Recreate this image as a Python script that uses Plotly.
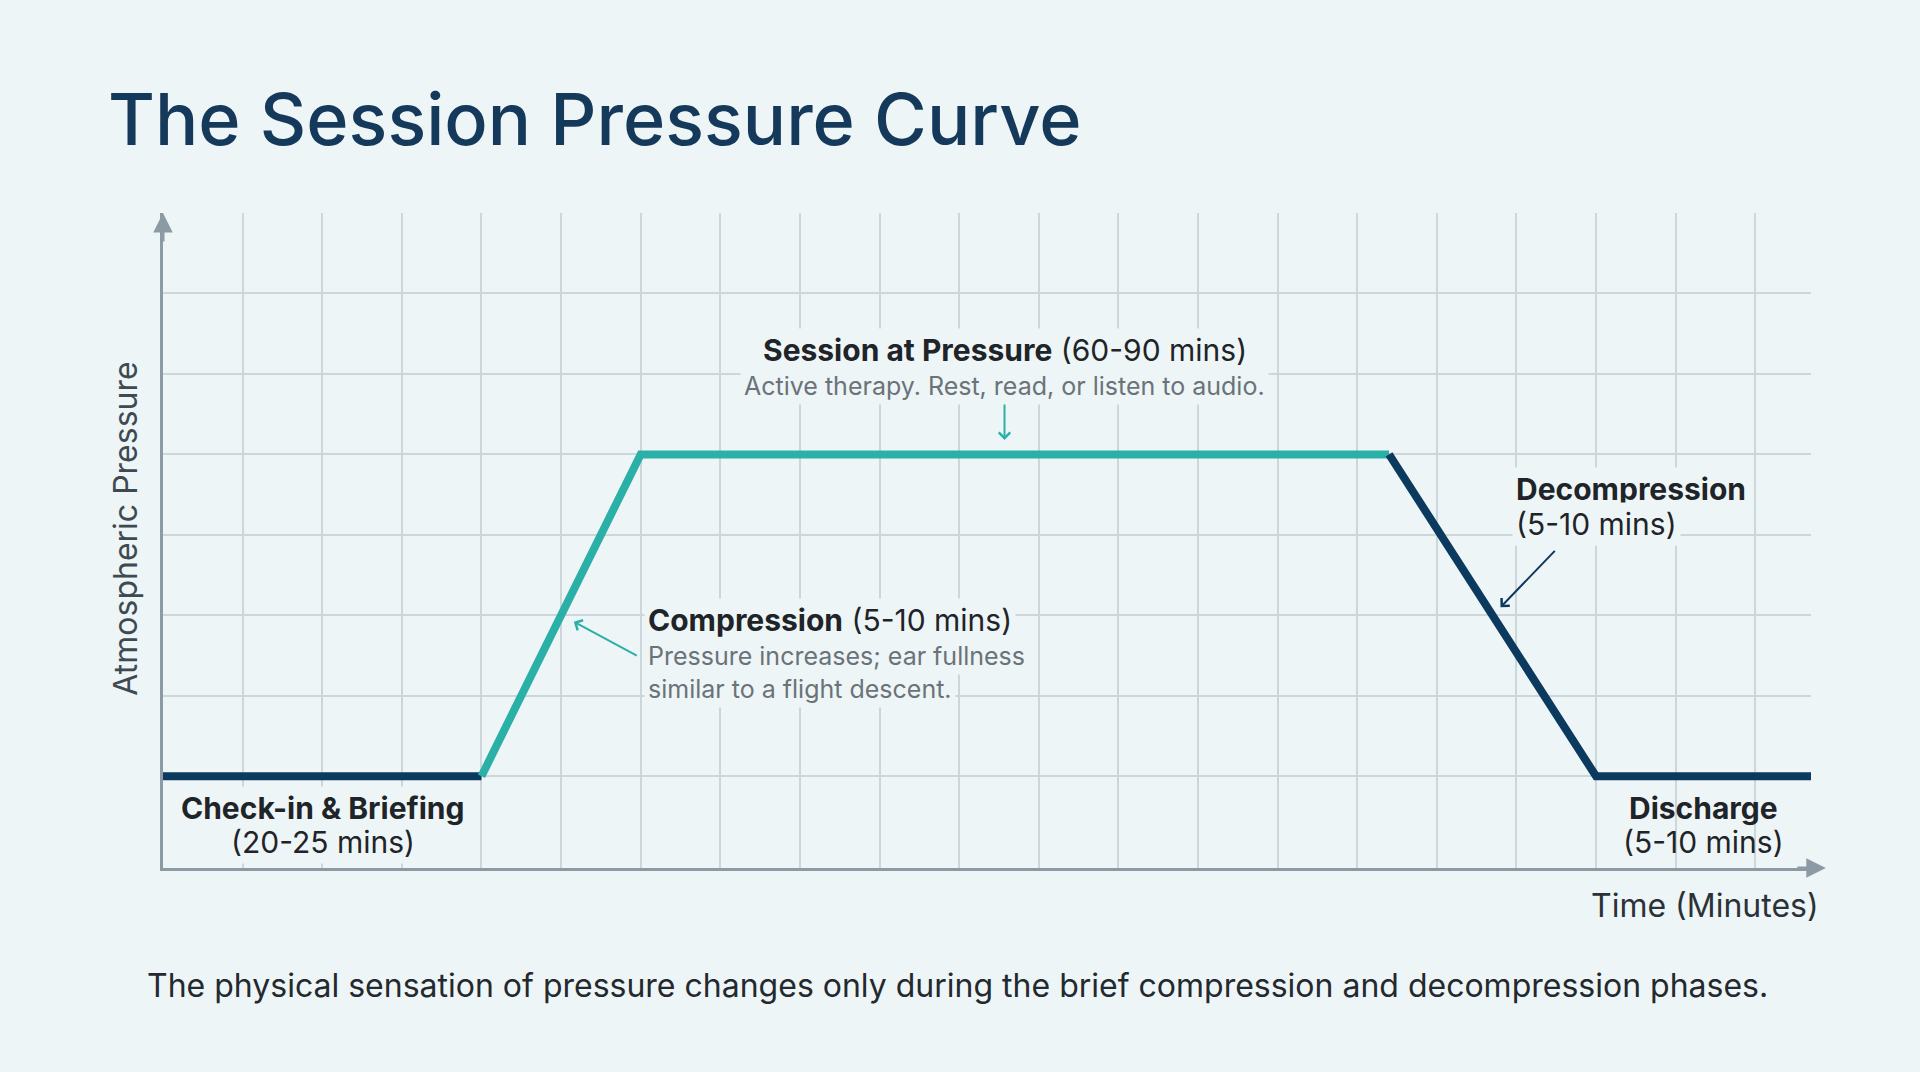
import plotly.graph_objects as go

# ---- data (grid units) ----
time_pts = [0, 4, 6, 15.4, 18, 20.7]
pressure = [0, 0, 4, 4, 0, 0]
segment_color = ["navy", "teal", "teal", "navy", "navy"]

phase_titles = ["Check-in & Briefing", "Compression", "Session at Pressure", "Decompression", "Discharge"]
phase_durations = ["(20-25 mins)", "(5-10 mins)", "(60-90 mins)", "(5-10 mins)", "(5-10 mins)"]
compression_note = ["Pressure increases; ear fullness", "similar to a flight descent."]
session_note = "Active therapy. Rest, read, or listen to audio."

BG = "#EEF5F7"
NAVY = "#0B3A5E"
TEAL = "#2BB0A8"
GRID = "#CDD6DB"
AXIS = "#8C9AA3"
FONT = "Inter"

fig = go.Figure()

# split curve into coloured runs
runs = []
cur = [0]
for i, c in enumerate(segment_color):
    if i > 0 and c != segment_color[i - 1]:
        runs.append((segment_color[i - 1], cur))
        cur = [i]
    cur.append(i + 1)
runs.append((segment_color[-1], cur))
for col, idx in runs:
    fig.add_trace(go.Scatter(
        x=[time_pts[k] for k in idx], y=[pressure[k] for k in idx],
        mode="lines", line=dict(color=NAVY if col == "navy" else TEAL, width=8),
        hoverinfo="skip", showlegend=False))

ann = []
def label(x, y, text, size, color, xanchor="center", align="center", bg=True, pad=3):
    ann.append(dict(x=x, y=y, xref="x", yref="y", text=text, showarrow=False,
                    font=dict(family=FONT, size=size, color=color),
                    xanchor=xanchor, yanchor="middle", align=align,
                    bgcolor=BG if bg else None, borderpad=pad))

def arrow(x0, y0, x1, y1, color):
    ann.append(dict(x=x1, y=y1, ax=x0, ay=y0, xref="x", yref="y", axref="x", ayref="y",
                    text="", showarrow=True, arrowhead=4, arrowsize=1.1, arrowwidth=2,
                    arrowcolor=color))

DARK = "#1E2428"
GRAY = "#6A7378"
BIG = 30
SMALL = 25
# Session at pressure
label(10.57, 5.30, f"<b>{phase_titles[2]}</b> {phase_durations[2]}", BIG, DARK)
label(10.57, 4.85, session_note, SMALL, GRAY)
arrow(10.57, 4.64, 10.57, 4.18, TEAL)
# Compression
label(6.04, 1.94, f"<b>{phase_titles[1]}</b> {phase_durations[1]}", BIG, DARK, xanchor="left", align="left")
label(6.04, 1.50, compression_note[0], SMALL, GRAY, xanchor="left", align="left")
label(6.04, 1.09, compression_note[1], SMALL, GRAY, xanchor="left", align="left")
arrow(5.97, 1.49, 5.16, 1.92, TEAL)
# Decompression
label(16.95, 3.57, f"<b>{phase_titles[3]}</b>", BIG, DARK, xanchor="left", align="left")
label(16.95, 3.13, phase_durations[3], BIG, DARK, xanchor="left", align="left")
arrow(17.5, 2.82, 16.8, 2.10, NAVY)
# Check-in
label(2.01, -0.40, f"<b>{phase_titles[0]}</b>", BIG, DARK)
label(2.01, -0.82, phase_durations[0], BIG, DARK)
# Discharge
label(19.35, -0.40, f"<b>{phase_titles[4]}</b>", BIG, DARK, bg=False)
label(19.35, -0.82, phase_durations[4], BIG, DARK, bg=False)

# axis arrowheads (paper coords)
ann.append(dict(x=0, y=1.0, xref="paper", yref="paper", ax=0, ay=30, text="",
                showarrow=True, arrowhead=2, arrowsize=1.3, arrowwidth=3, arrowcolor=AXIS))
ann.append(dict(x=1.009, y=0, xref="paper", yref="paper", ax=-30, ay=0, text="",
                showarrow=True, arrowhead=2, arrowsize=1.3, arrowwidth=3, arrowcolor=AXIS))
# axis titles
ann.append(dict(x=-0.0225, y=0.518, xref="paper", yref="paper", text="Atmospheric Pressure",
                textangle=-90, showarrow=False, xanchor="center", yanchor="middle",
                font=dict(family=FONT, size=32, color="#3E4A52")))
ann.append(dict(x=1.006, y=-0.058, xref="paper", yref="paper", text="Time (Minutes)",
                showarrow=False, xanchor="right", yanchor="middle",
                font=dict(family=FONT, size=32, color="#2A3238")))
# footer
ann.append(dict(x=0.482, y=-0.180, xref="paper", yref="paper",
                text="The physical sensation of pressure changes only during the brief compression and decompression phases.",
                showarrow=False, xanchor="center", yanchor="middle",
                font=dict(family=FONT, size=32, color="#23292E")))

fig.update_layout(
    width=1920, height=1072,
    margin=dict(l=163, r=109, t=213, b=204),
    paper_bgcolor=BG, plot_bgcolor=BG,
    title=dict(text="The Session Pressure Curve", x=0.05625, xanchor="left", y=0.888, yanchor="middle",
               xref="container", yref="container",
               font=dict(family=FONT, size=72, color="#15395A", weight=500)),
    annotations=ann,
    xaxis=dict(range=[0, 20.7], tickmode="linear", tick0=0, dtick=1, showticklabels=False,
               ticks="", showgrid=True, gridcolor=GRID, gridwidth=1.5, zeroline=False,
               showline=True, linecolor=AXIS, linewidth=3, fixedrange=True),
    yaxis=dict(range=[-1.14, 7.0], tickmode="array", tickvals=list(range(0, 8)), showticklabels=False,
               ticks="", showgrid=True, gridcolor=GRID, gridwidth=1.5, zeroline=False,
               showline=True, linecolor=AXIS, linewidth=3, fixedrange=True),
)

fig.write_html("out.html")
